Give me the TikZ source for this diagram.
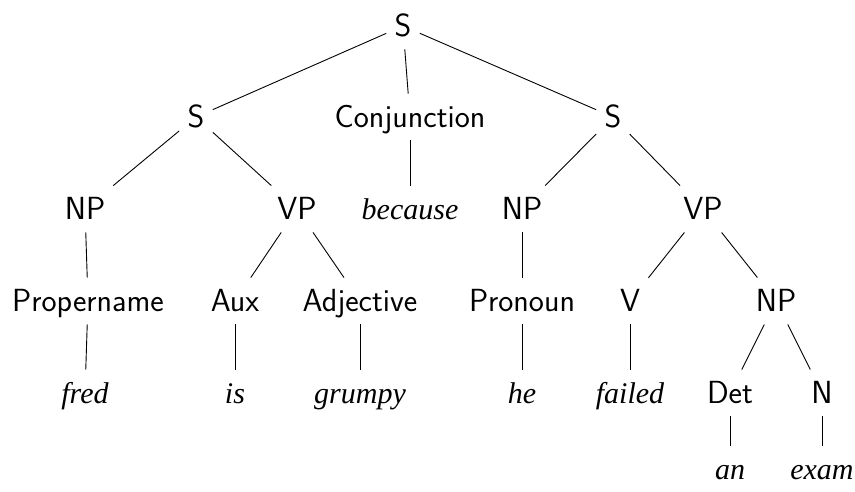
\documentclass[tikz,border=0pt]{standalone}
\usepackage{fontspec}
\newfontfamily\wordfont{Liberation Serif}
\begin{document}
\begin{tikzpicture}[x=1pt,y=-1pt,
  lab/.style={font=\fontsize{32}{38}\sffamily, anchor=base, text height=28pt, text depth=8pt, inner xsep=8pt, inner ysep=5pt},
  wrd/.style={font=\fontsize{30}{36}\wordfont\itshape, anchor=base, text height=28pt, text depth=8pt, inner xsep=8pt, inner ysep=5pt},
  every path/.style={line width=0.9pt}]
\useasboundingbox (0,0) rectangle (855,491);
% row 1
\node[lab] (s) at (403,36) {S};
% row 2
\node[lab] (s1) at (196,127) {S};
\node[lab] (conj) at (410,127) {Conjunction};
\node[lab] (s2) at (613,127) {S};
% row 3
\node[lab] (np1) at (85,219) {NP};
\node[lab] (vp1) at (297,219) {VP};
\node[wrd] (because) at (410,219) {because};
\node[lab] (np2) at (522,219) {NP};
\node[lab] (vp2) at (703,219) {VP};
% row 4
\node[lab] (pn) at (88,311) {Propername};
\node[lab] (aux) at (235,311) {Aux};
\node[lab] (adj) at (360,311) {Adjective};
\node[lab] (pro) at (522,311) {Pronoun};
\node[lab] (v) at (630,311) {V};
\node[lab] (np3) at (776,311) {NP};
% row 5
\node[wrd] (fred) at (85,403) {fred};
\node[wrd] (is) at (235,403) {is};
\node[wrd] (grumpy) at (360,403) {grumpy};
\node[wrd] (he) at (522,403) {he};
\node[wrd] (failed) at (630,403) {failed};
\node[lab] (det) at (730,403) {Det};
\node[lab] (n) at (822,403) {N};
% row 6
\node[wrd] (an) at (730,479) {an};
\node[wrd] (exam) at (822,479) {exam};
% edges
\draw (s) -- (s1);
\draw (s) -- (conj);
\draw (s) -- (s2);
\draw (s1) -- (np1);
\draw (s1) -- (vp1);
\draw (conj) -- (because);
\draw (s2) -- (np2);
\draw (s2) -- (vp2);
\draw (np1) -- (pn);
\draw (vp1) -- (aux);
\draw (vp1) -- (adj);
\draw (np2) -- (pro);
\draw (vp2) -- (v);
\draw (vp2) -- (np3);
\draw (pn) -- (fred);
\draw (aux) -- (is);
\draw (adj) -- (grumpy);
\draw (pro) -- (he);
\draw (v) -- (failed);
\draw (np3) -- (det);
\draw (np3) -- (n);
\draw (det) -- (an);
\draw (n) -- (exam);
\end{tikzpicture}
\end{document}
